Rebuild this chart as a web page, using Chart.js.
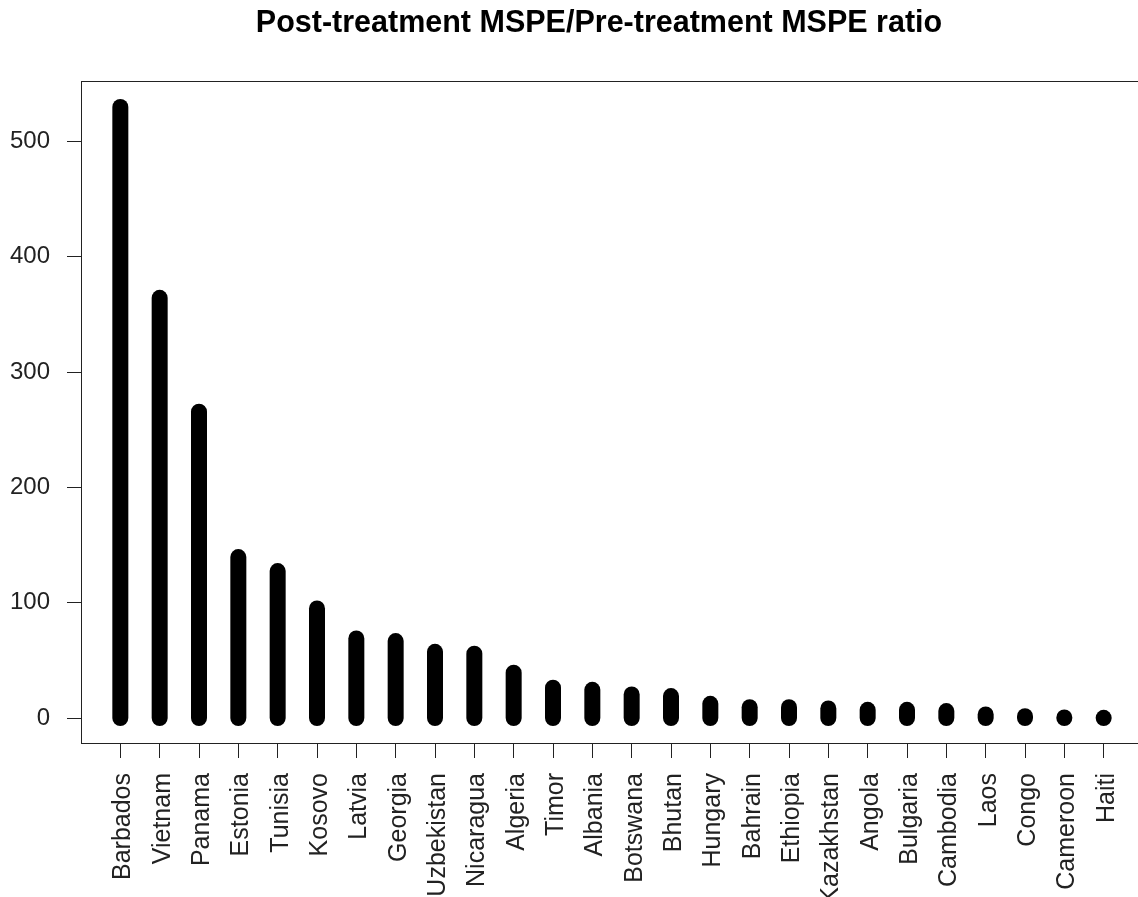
<!DOCTYPE html>
<html>
<head>
<meta charset="utf-8">
<script src="https://cdn.jsdelivr.net/npm/chart.js@4.4.1/dist/chart.umd.min.js"></script>
<style>
	html, body { margin: 0; padding: 0; background: #fff; overflow: hidden; }
	#wrap { width: 1150px; height: 897px; }
</style>
</head>
<body>
<div id="wrap"><canvas id="chart"></canvas></div>
<script>
const countries = ['Barbados', 'Vietnam', 'Panama', 'Estonia', 'Tunisia', 'Kosovo', 'Latvia', 'Georgia',
	'Uzbekistan', 'Nicaragua', 'Algeria', 'Timor', 'Albania', 'Botswana', 'Bhutan', 'Hungary', 'Bahrain',
	'Ethiopia', 'Kazakhstan', 'Angola', 'Bulgaria', 'Cambodia', 'Laos', 'Congo', 'Cameroon', 'Haiti'];
const ratio = [530, 364.5, 265.7, 139.6, 127.5, 95.1, 69.0, 66.8, 57.5, 55.8, 39.3, 26.3, 24.5,
	20.5, 19.1, 12.4, 9.5, 9.5, 8.3, 7.2, 7.2, 6.1, 3.1, 1.7, 0.5, 0.2];
const yTicks = [0, 100, 200, 300, 400, 500];
const title = 'Post-treatment MSPE/Pre-treatment MSPE ratio';

const font = '"Liberation Sans", Arial, sans-serif';

// one vertical segment per country, like R's type="h"
let datasets = countries.map((name, i) => ({
	label: name,
	data: [{x: i + 1, y: 0}, {x: i + 1, y: ratio[i]}],
	borderColor: '#000',
	borderWidth: 16,
	borderCapStyle: 'round',
	pointRadius: 0,
	fill: false,
}));

// box round the plot region plus the title (R puts it a bit left of the box centre)
const frame = {
	id: 'frame',
	afterDraw(chart) {
		const a = chart.chartArea;
		const ctx = chart.ctx;
		ctx.save();
		ctx.strokeStyle = '#222';
		ctx.lineWidth = 1;
		ctx.strokeRect(a.left + 0.5, a.top + 0.5, a.right - a.left, a.bottom - a.top);
		ctx.fillStyle = '#000';
		ctx.font = 'bold 30.5px ' + font;
		ctx.textAlign = 'center';
		ctx.textBaseline = 'alphabetic';
		ctx.fillText(title, 599, 32);
		ctx.restore();
	}
};

new Chart(document.getElementById('chart'), {
	type: 'line',
	data: {datasets: datasets},
	options: {
		responsive: true,
		maintainAspectRatio: false,
		animation: false,
		layout: {padding: {top: 81, right: 7, bottom: 0, left: 0}},
		plugins: {
			legend: {display: false},
			tooltip: {enabled: false},
			title: {display: false},
		},
		scales: {
			x: {
				type: 'linear',
				min: 0,
				max: 27,
				afterBuildTicks: scale => {
					scale.ticks = countries.map((c, i) => ({value: i + 1}));
				},
				afterFit: scale => { scale.height = 154; },
				grid: {drawOnChartArea: false, drawTicks: true, tickLength: 15, color: '#222'},
				border: {display: false},
				ticks: {
					autoSkip: false,
					minRotation: 90,
					maxRotation: 90,
					padding: 15,
					labelOffset: 3,
					color: '#222',
					font: {family: font, size: 25},
					callback: (value) => countries[value - 1] || '',
				},
			},
			y: {
				type: 'linear',
				min: -21.6,
				max: 552.5,
				afterBuildTicks: scale => {
					scale.ticks = yTicks.map(v => ({value: v}));
				},
				afterFit: scale => { scale.width = 81; },
				grid: {drawOnChartArea: false, drawTicks: true, tickLength: 14, color: '#222'},
				border: {display: false},
				ticks: {
					padding: 17,
					color: '#222',
					font: {family: font, size: 24},
				},
			},
		},
	},
	plugins: [frame],
});
</script>
</body>
</html>
